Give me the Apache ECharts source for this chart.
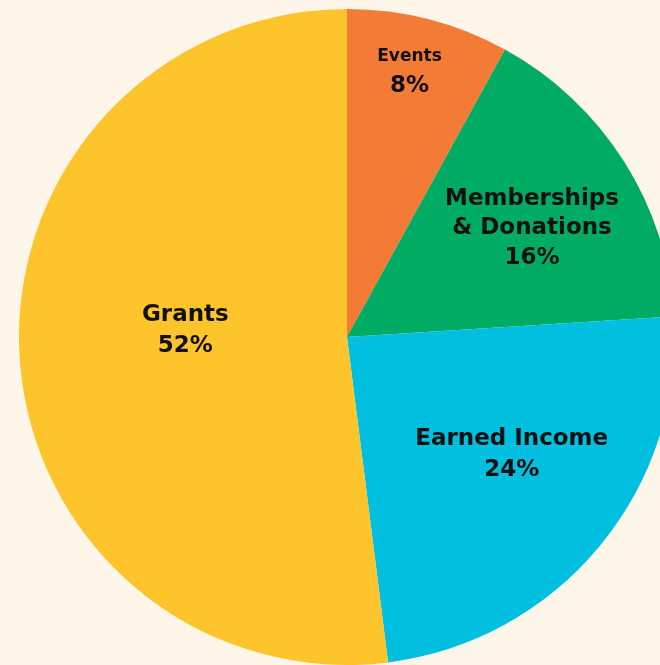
<!DOCTYPE html>
<html>
<head>
<meta charset="utf-8">
<script src="https://cdn.jsdelivr.net/npm/echarts@6/dist/echarts.min.js"></script>
<style>
  html, body { margin: 0; padding: 0; background: #fef6e9; }
  #chart { width: 660px; height: 665px; }
</style>
</head>
<body>
<div id="chart"></div>
<script>
// income sources, percent
const names = ['Events', 'Memberships\n& Donations', 'Earned Income', 'Grants'];
const shares = [8, 16, 24, 52];
const colors = ['#f47b35', '#00ab63', '#00bfdf', '#fec42c'];
// nudge labels from their default inside spot
const labelShift = [[21, -103], [44, -18], [36, 12], [5, -16]];

const chart = echarts.init(document.getElementById('chart'));
chart.setOption({
  backgroundColor: '#fef6e9',
  animation: false,
  series: [{
    type: 'pie',
    center: [347, 337],
    radius: 328,
    startAngle: 90,
    clockwise: true,
    data: names.map((n, i) => ({
      name: n,
      value: shares[i],
      itemStyle: { color: colors[i] },
      label: i === 0 ? {
        formatter: '{s|{b}}\n{v|{c}%}'
      } : undefined
    })),
    label: {
      position: 'inside',
      formatter: '{n|{b}}\n{v|{c}%}',
      color: '#111',
      rich: {
        n: { fontFamily: 'DejaVu Sans', fontWeight: 'bold', fontSize: 23, lineHeight: 29, color: '#111' },
        s: { fontFamily: 'DejaVu Sans', fontWeight: 'bold', fontSize: 17, lineHeight: 28, color: '#111' },
        v: { fontFamily: 'DejaVu Sans', fontWeight: 'bold', fontSize: 23, lineHeight: 32, color: '#111' }
      }
    },
    labelLine: { show: false },
    labelLayout: function (p) {
      const s = labelShift[p.dataIndex];
      return { dx: s[0], dy: s[1] };
    },
    emphasis: { disabled: true }
  }]
});
</script>
</body>
</html>
